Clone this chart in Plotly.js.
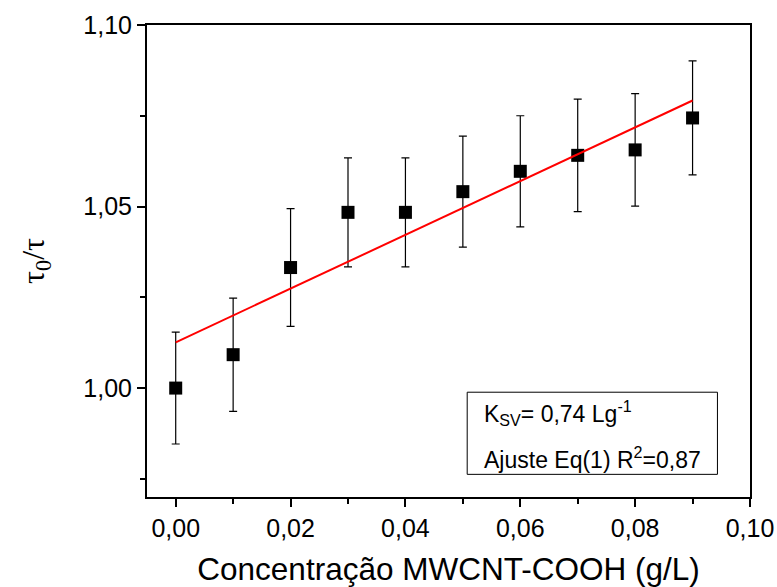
<!DOCTYPE html>
<html>
<head>
<meta charset="utf-8">
<script src="https://cdn.plot.ly/plotly-3.0.1.min.js"></script>
<style>html,body{margin:0;padding:0;background:#fff;}#chart{width:777px;height:587px;}</style>
</head>
<body>
<div id="chart"></div>
<script>
// Data
const concentration = [0.00, 0.01, 0.02, 0.03, 0.04, 0.05, 0.06, 0.07, 0.08, 0.09];
const tauRatio = [1.0000, 1.0092, 1.0332, 1.0484, 1.0484, 1.0541, 1.0597, 1.0641, 1.0656, 1.0744];
const tauError = [0.0154, 0.0156, 0.0162, 0.0150, 0.0150, 0.0153, 0.0153, 0.0155, 0.0155, 0.0157];
const fitX = [0.00, 0.09];
const fitY = [1.0126, 1.0792];
const xTickVals = [0.00, 0.02, 0.04, 0.06, 0.08, 0.10];
const xTickText = ["0,00", "0,02", "0,04", "0,06", "0,08", "0,10"];
const yTickVals = [1.00, 1.05, 1.10];
const yTickText = ["1,00", "1,05", "1,10"];
const boxLines = ["K<sub>SV</sub>= 0,74 Lg<sup>-1</sup>", "Ajuste Eq(1) R<sup>2</sup>=0,87"];

const font = "Liberation Sans, Arial, sans-serif";

const traces = [
  {
    x: concentration, y: tauRatio, type: "scatter", mode: "markers",
    marker: {symbol: "square", size: 13, color: "#000"},
    error_y: {type: "data", array: tauError, visible: true, color: "#000", thickness: 1.2, width: 4},
    showlegend: false, cliponaxis: false
  },
  {
    x: fitX, y: fitY, type: "scatter", mode: "lines",
    line: {color: "#ff0000", width: 2}, showlegend: false
  }
];

const layout = {
  width: 777, height: 587,
  margin: {l: 147, r: 27, t: 25, b: 90},
  paper_bgcolor: "#fff", plot_bgcolor: "#fff",
  font: {family: font, color: "#000"},
  xaxis: {
    range: [-0.005, 0.10], showgrid: false, zeroline: false,
    showline: true, linecolor: "#000", linewidth: 2, mirror: true,
    ticks: "outside", ticklen: 8, tickwidth: 2, tickcolor: "#000",
    tickvals: xTickVals, ticktext: xTickText,
    tickfont: {size: 25, family: font},
    minor: {dtick: 0.01, ticks: "outside", ticklen: 5, tickwidth: 2, tickcolor: "#000"},
    title: {text: "Concentração MWCNT-COOH (g/L)", font: {size: 31.5, family: font}, standoff: 20}
  },
  yaxis: {
    range: [0.97, 1.10], showgrid: false, zeroline: false,
    showline: true, linecolor: "#000", linewidth: 2, mirror: true,
    ticks: "outside", ticklen: 8, tickwidth: 2, tickcolor: "#000",
    tickvals: yTickVals, ticktext: yTickText,
    tickfont: {size: 25, family: font},
    minor: {dtick: 0.025, ticks: "outside", ticklen: 5, tickwidth: 2, tickcolor: "#000"},
    title: {text: "τ<sub>0</sub>/τ", font: {size: 32, family: "Liberation Serif, serif", color: "#000"}, standoff: 29}
  },
  shapes: [{
    type: "rect", xref: "paper", yref: "paper",
    x0: 0.531, x1: 0.946, y0: 0.048, y1: 0.222,
    line: {color: "#000", width: 1}, fillcolor: "rgba(0,0,0,0)"
  }],
  annotations: [
    {xref: "paper", yref: "paper", x: 0.556, y: 0.178, xanchor: "left", yanchor: "middle",
     text: boxLines[0], showarrow: false, font: {size: 23, family: font}},
    {xref: "paper", yref: "paper", x: 0.556, y: 0.083, xanchor: "left", yanchor: "middle",
     text: boxLines[1], showarrow: false, font: {size: 23, family: font}}
  ]
};

Plotly.newPlot("chart", traces, layout, {displayModeBar: false, staticPlot: true});
</script>
</body>
</html>
